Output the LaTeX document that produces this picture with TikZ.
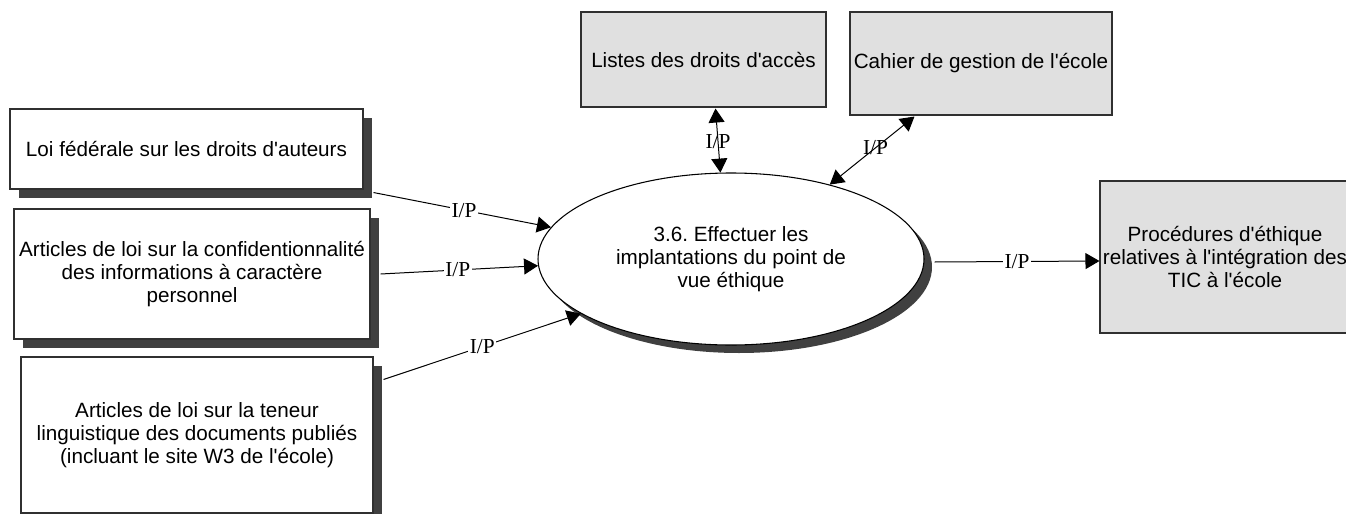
\documentclass[tikz,border=0pt]{standalone}
\usepackage{fontspec}
\setmainfont{Liberation Sans}
\newfontfamily\ipfont{Liberation Serif}
\usetikzlibrary{shapes.geometric,shadows,calc,arrows.meta}
\newcommand\ap{\textquotesingle}
\frenchspacing
\definecolor{shadowgray}{HTML}{404040}
\definecolor{storegray}{HTML}{E0E0E0}
\definecolor{edgegray}{HTML}{303030}
\tikzset{
  txt/.style={font=\fontsize{15.5pt}{17pt}\selectfont, align=center},
  extbox/.style={txt, draw=edgegray, line width=0.8pt, fill=white, inner sep=0pt,
    drop shadow={shadow xshift=7pt, shadow yshift=-7pt, fill=shadowgray, opacity=1}},
  storebox/.style={txt, draw=edgegray, line width=0.8pt, fill=storegray, inner sep=0pt},
  process/.style={txt, ellipse, draw=black, line width=0.8pt, fill=white, inner sep=0pt,
    minimum width=386*0.75pt, minimum height=172*0.75pt,
    drop shadow={shadow xshift=6pt, shadow yshift=-6pt, fill=shadowgray, opacity=1}},
  flow/.style={draw=black, line width=0.75pt, -{Triangle[length=10.5pt,width=12pt]}},
  biflow/.style={draw=black, line width=0.75pt, {Triangle[length=10.5pt,width=12pt]}-{Triangle[length=10.5pt,width=12pt]}},
  iplabel/.style={font=\ipfont\fontsize{16pt}{18pt}\selectfont, inner sep=1pt},
  iplabelbg/.style={iplabel, fill=white},
}
\begin{document}
\begin{tikzpicture}[x=0.75pt, y=-0.75pt]
\useasboundingbox (0,0) rectangle (1346,514);
\clip (0,0) rectangle (1346,514);

% external sources on the left
\node[extbox, minimum width=353*0.75pt, minimum height=80*0.75pt] (loi) at (186.5,149)
  {Loi fédérale sur les droits d\ap auteurs};
\node[extbox, minimum width=356*0.75pt, minimum height=130*0.75pt] (conf) at (192,274)
  {Articles de loi sur la confidentionnalité\\des informations à caractère\\personnel};
\node[extbox, minimum width=352*0.75pt, minimum height=156*0.75pt] (teneur) at (197,435)
  {Articles de loi sur la teneur\\linguistique des documents publiés\\(incluant le site W3 de l\ap école)};

% data stores
\node[storebox, minimum width=245*0.75pt, minimum height=95*0.75pt] (listes) at (703.5,59.5)
  {Listes des droits d\ap accès};
\node[storebox, minimum width=262*0.75pt, minimum height=103*0.75pt] (cahier) at (981,63.5)
  {Cahier de gestion de l\ap école};
\node[storebox, minimum width=250*0.75pt, minimum height=152*0.75pt] (proc) at (1225,257)
  {Procédures d\ap éthique\\relatives à l\ap intégration des\\TIC à l\ap école};

% central process
\node[process] (ell) at (731,259)
  {3.6. Effectuer les\\implantations du point de\\vue éthique};

% flows
\draw[flow] ($(loi.south east)+(10,3)$) -- node[iplabelbg, pos=0.51] {I/P} (ell.170);
\draw[flow] ($(conf.east)+(10,0)$) -- node[iplabelbg, pos=0.49] {I/P} (ell.182);
\draw[flow] ($(teneur.north east)+(10,23)$) -- node[iplabelbg, pos=0.5] {I/P} (ell.200);
\draw[biflow] ($(listes.south)+(12,1)$) -- node[iplabel, pos=0.52] {I/P} (ell.97);
\draw[biflow] ($(cahier.south west)+(65,1)$) -- node[iplabel, pos=0.46] {I/P} (ell.37);
\draw[flow] ($(ell.east)+(10,3)$) -- node[iplabelbg, pos=0.5] {I/P} (proc.west|-0,261);
\end{tikzpicture}
\end{document}
